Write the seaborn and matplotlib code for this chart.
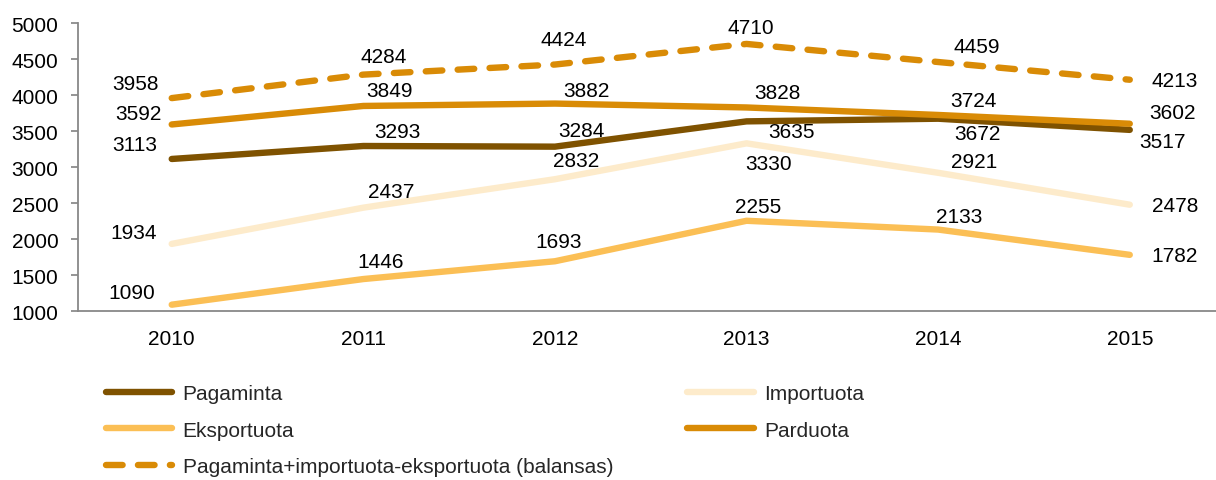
import matplotlib
matplotlib.use("Agg")
import matplotlib.pyplot as plt
import seaborn as sns
import pandas as pd
from matplotlib.lines import Line2D

years = [2010, 2011, 2012, 2013, 2014, 2015]
pagaminta = [3113, 3293, 3284, 3635, 3672, 3517]
importuota = [1934, 2437, 2832, 3330, 2921, 2478]
eksportuota = [1090, 1446, 1693, 2255, 2133, 1782]
parduota = [3592, 3849, 3882, 3828, 3724, 3602]
balansas = [3958, 4284, 4424, 4710, 4459, 4213]

names = ["Pagaminta", "Importuota", "Eksportuota", "Parduota",
         "Pagaminta+importuota-eksportuota (balansas)"]
series = [pagaminta, importuota, eksportuota, parduota, balansas]
colors = ["#7F5200", "#FDEBCB", "#FBBF55", "#D98B06", "#D98B06"]

rows = []
for n, vals in zip(names, series):
    for y, v in zip(years, vals):
        rows.append({"year": y, "value": v, "series": n})
df = pd.DataFrame(rows)

sns.set_theme(style="white")
plt.rcParams['font.family'] = ['Liberation Sans', 'DejaVu Sans']

FS = 15
fig = plt.figure(figsize=(12.16, 4.81), dpi=100)
ax = fig.add_axes([0.064, 0.351, 0.936, 0.599])

palette = dict(zip(names, colors))
DASH = (2.6, 2.4)
draw_order = [names[1], names[2], names[0], names[3], names[4]]
for n in draw_order:
    sub = df[df["series"] == n]
    sns.lineplot(data=sub, x="year", y="value", color=palette[n], ax=ax,
                 linewidth=4.6, legend=False, solid_capstyle="round",
                 dash_capstyle="round",
                 linestyle="--" if n == names[4] else "-")
ax.lines[-1].set_dashes(DASH)

# label offsets in pixels (dx, dy), per series per year
offsets = {
    names[0]: [(-37, 14), (34, 15), (26, 16), (45, -10), (39, -15), (33, -12)],
    names[1]: [(-38, 11), (28, 16), (21, 19), (22, -20), (36, 11), (45, -1)],
    names[2]: [(-40, 12), (17, 18), (4, 20), (12, 14), (21, 13), (45, -1)],
    names[3]: [(-33, 11), (26, 15), (31, 13), (31, 15), (35, 14), (43, 11)],
    names[4]: [(-36, 15), (20, 18), (9, 25), (4, 16), (39, 16), (45, -1)],
}
for n, vals in zip(names, series):
    for i, (y, v) in enumerate(zip(years, vals)):
        dx, dy = offsets[n][i]
        ax.annotate(str(v), (y, v), xytext=(dx * 0.72, dy * 0.72),
                    textcoords="offset points", ha="center", va="center",
                    fontsize=FS, color="black")

ax.set_xlim(2009.51, 2015.45)
ax.set_ylim(1000, 5000)
ax.set_yticks(range(1000, 5001, 500))
ax.set_xticks(years)
ax.set_xticklabels([str(y) for y in years])
ax.set_xlabel("")
ax.set_ylabel("")
ax.tick_params(axis="y", labelsize=FS, length=5, color="#888888",
               direction="out", left=True, pad=9, labelcolor="black")
ax.tick_params(axis="x", labelsize=FS, length=0, pad=13, labelcolor="black")
for s in ["top", "right"]:
    ax.spines[s].set_visible(False)
for s in ["left", "bottom"]:
    ax.spines[s].set_color("#888888")
    ax.spines[s].set_linewidth(1.3)

handles = []
legend_order = [0, 2, 4, 1, 3]
for i in legend_order:
    ls = (0, DASH) if i == 4 else "-"
    handles.append(Line2D([], [], color=colors[i], linewidth=4.6,
                          linestyle=ls, solid_capstyle="round",
                          dash_capstyle="round"))
fig.legend(handles, [names[i] for i in legend_order], ncol=2,
           loc="upper left", bbox_to_anchor=(0.08, 0.217),
           frameon=False, fontsize=FS, handlelength=3.2, handletextpad=0.5,
           labelspacing=0.85, columnspacing=3.55, borderaxespad=0)

fig.savefig("out.png", dpi=100)
